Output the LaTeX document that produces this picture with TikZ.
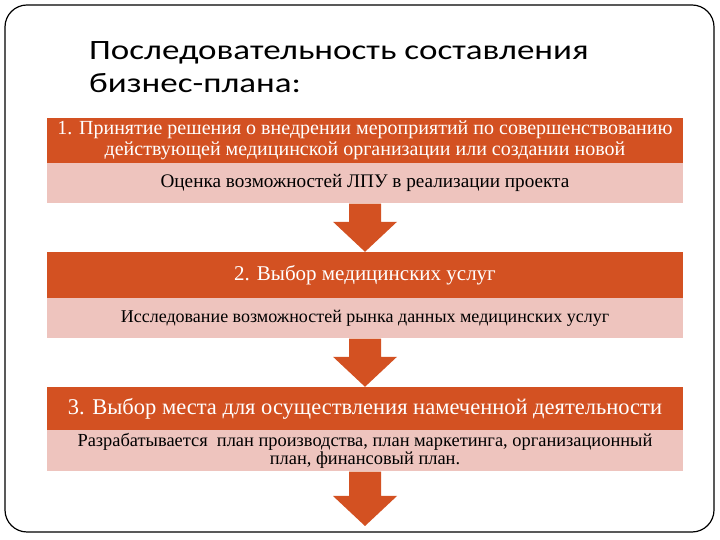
\documentclass[tikz,border=0pt]{standalone}
\usepackage{fontspec}
\setmainfont{Liberation Serif}
\newfontfamily\slidefont[FakeStretch=1.25]{Carlito}
\usetikzlibrary{positioning,calc}
\definecolor{planorange}{RGB}{211,81,34}
\definecolor{planpink}{RGB}{238,196,190}
\tikzset{
  headbox/.style={fill=planorange, text=white, minimum width=636, align=center, inner sep=0pt},
  subbox/.style={fill=planpink, text=black, minimum width=636, align=center, inner sep=0pt},
}
\begin{document}
\begin{tikzpicture}[x=1pt,y=1pt]
\useasboundingbox (0,0) rectangle (720,540);
\draw[line width=1.2pt, rounded corners=22] (5,8) rectangle (714,535);
\node[anchor=north west, align=left, inner sep=0pt, font=\slidefont\fontsize{28}{33}\selectfont] (title) at (89,499) {Последовательность составления\\бизнес-плана:};

\node[headbox, minimum height=45, font=\fontsize{20}{21}\selectfont] (h1) at (365,399.5) {1. Принятие решения о внедрении мероприятий по совершенствованию\\действующей медицинской организации или создании новой};
\node[subbox, minimum height=40, below=0pt of h1, font=\fontsize{19.2}{22}\selectfont] (s1) {Оценка возможностей ЛПУ в реализации проекта};

\node[headbox, minimum height=46, font=\fontsize{21}{22}\selectfont] (h2) at (365,265) {2. Выбор медицинских услуг};
\node[subbox, minimum height=40, below=0pt of h2, font=\fontsize{18}{20}\selectfont] (s2) {Исследование возможностей рынка данных медицинских услуг};

\node[headbox, minimum height=43, font=\fontsize{22.5}{24}\selectfont] (h3) at (365,131.5) {3. Выбор места для осуществления намеченной деятельности};
\node[subbox, minimum height=41, below=0pt of h3, font=\fontsize{18.4}{18}\selectfont] (s3) {Разрабатывается~ план производства, план маркетинга, организационный\\план, финансовый план.};
\coordinate (end) at (365,14);

\foreach \from/\to in {s1.south/h2.north, s2.south/h3.north, s3.south/end}
  \fill[planorange] ($(\from)+(-16,0)$) -- ($(\from)+(16,0)$) -- ($(\to)+(16,30)$) -- ($(\to)+(32,30)$)
    -- (\to) -- ($(\to)+(-32,30)$) -- ($(\to)+(-16,30)$) -- cycle;
\end{tikzpicture}
\end{document}
